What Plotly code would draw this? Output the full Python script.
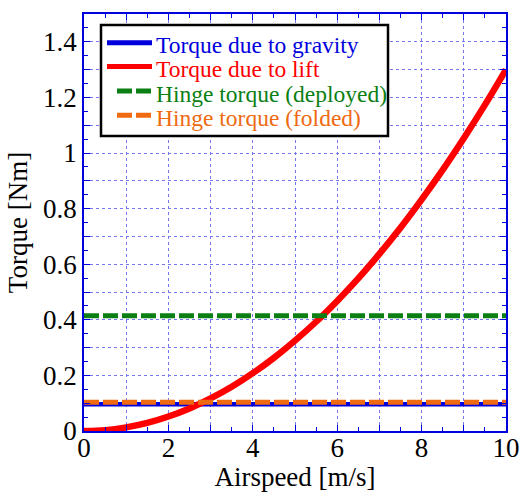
import plotly.graph_objects as go

airspeed = [0, 0.5, 1, 1.5, 2, 2.5, 3, 3.5, 4, 4.5, 5, 5.5, 6, 6.5, 7, 7.5, 8, 8.5, 9, 9.5, 10]
torque_lift = [0.0, 0.003, 0.013, 0.029, 0.052, 0.081, 0.117, 0.159, 0.208, 0.263, 0.325,
               0.393, 0.468, 0.549, 0.637, 0.731, 0.832, 0.939, 1.053, 1.173, 1.300]
x_ends = [0, 10]
torque_gravity = [0.096, 0.096]
hinge_deployed = [0.415, 0.415]
hinge_folded = [0.103, 0.103]

series_names = ["Torque due to gravity", "Torque due to lift",
                "Hinge torque (deployed)", "Hinge torque (folded)"]
series_colors = ["#0000dd", "#ff0000", "#0b7f13", "#f06a12"]
series_dash = ["solid", "solid", "15px,4px", "15px,4px"]

FONT = "Liberation Serif, Times New Roman, serif"
fig = go.Figure()
fig.add_trace(go.Scatter(x=x_ends, y=torque_gravity, mode="lines",
                         line=dict(color=series_colors[0], width=4.5, dash=series_dash[0]),
                         name=series_names[0]))
fig.add_trace(go.Scatter(x=airspeed, y=torque_lift, mode="lines", line_shape="spline",
                         line=dict(color=series_colors[1], width=6.5, dash=series_dash[1]),
                         name=series_names[1]))
fig.add_trace(go.Scatter(x=x_ends, y=hinge_deployed, mode="lines",
                         line=dict(color=series_colors[2], width=5, dash=series_dash[2]),
                         name=series_names[2]))
fig.add_trace(go.Scatter(x=x_ends, y=hinge_folded, mode="lines",
                         line=dict(color=series_colors[3], width=5, dash=series_dash[3]),
                         name=series_names[3]))

xt = list(range(0, 11))
yt = [round(i * 0.1, 1) for i in range(0, 16)]
ytext = []
for v in yt:
    if round(v * 10) % 2 == 0:
        ytext.append("0" if v == 0 else ("1" if v == 1 else f"{v:g}"))
    else:
        ytext.append("")
xtext = [str(v) if v % 2 == 0 else "" for v in xt]

axis_common = dict(showline=True, linecolor="#0000dd", linewidth=1.5, mirror="ticks",
                   ticks="inside", ticklen=6, tickcolor="#0000dd", tickwidth=1,
                   showgrid=True, gridcolor="#7777f2", griddash="dot", gridwidth=1,
                   zeroline=False, automargin=False,
                   tickfont=dict(family=FONT, size=27, color="black"))

fig.update_xaxes(range=[0, 10], tickmode="array", tickvals=xt, ticktext=xtext,
                 ticklabelstandoff=-8,
                 minor=dict(dtick=0.5, ticks="inside", ticklen=4, tickcolor="#0000dd", showgrid=False),
                 title=dict(text="Airspeed [m/s]", font=dict(family=FONT, size=27, color="black"), standoff=10),
                 **axis_common)
fig.update_yaxes(range=[0, 1.5], tickmode="array", tickvals=yt, ticktext=ytext,
                 minor=dict(dtick=0.05, ticks="inside", ticklen=4, tickcolor="#0000dd", showgrid=False),
                 title=dict(text="Torque [Nm]", font=dict(family=FONT, size=27, color="black"), standoff=8),
                 **axis_common)

# Legend drawn manually (box, line samples, labels) in paper coordinates
PL, PR, PT, PB = 84, 506, 14, 431
def px(x):
    return (x - PL) / (PR - PL)
def py(y):
    return (PB - y) / (PB - PT)

shapes = [dict(type="rect", xref="paper", yref="paper", x0=px(101), x1=px(388), y0=py(136), y1=py(25),
               line=dict(color="black", width=2.5), fillcolor="white", layer="above")]
row_y = [42.7, 66.5, 91, 115.3]
sample_x0 = [107, 107, 117, 117]
annotations = []
for i in range(4):
    shapes.append(dict(type="line", xref="paper", yref="paper", x0=px(sample_x0[i]), x1=px(152),
                       y0=py(row_y[i]), y1=py(row_y[i]), layer="above",
                       line=dict(color=series_colors[i], width=5, dash=series_dash[i])))
    annotations.append(dict(xref="paper", yref="paper", x=px(154), y=py(row_y[i] + 2.5),
                            xanchor="left", yanchor="middle", showarrow=False,
                            text=series_names[i],
                            font=dict(family=FONT, size=23.5, color=series_colors[i])))

fig.update_layout(width=520, height=492, margin=dict(l=PL, r=520 - PR, t=PT, b=492 - PB),
                  plot_bgcolor="white", paper_bgcolor="white",
                  font=dict(family=FONT),
                  shapes=shapes, annotations=annotations, showlegend=False)

fig.write_html("out.html")
